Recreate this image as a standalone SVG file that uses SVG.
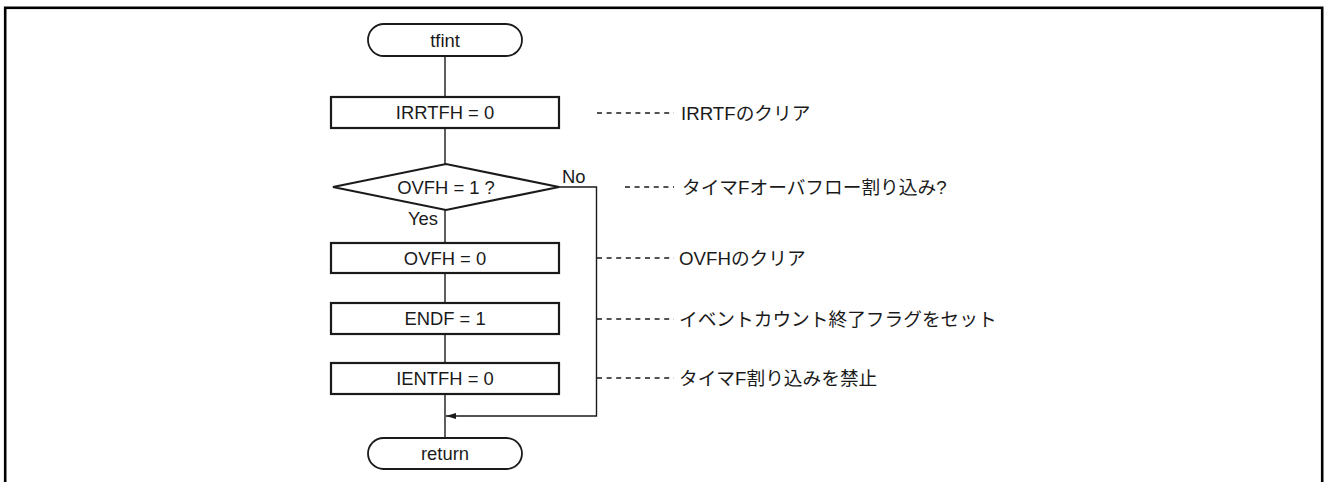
<svg xmlns="http://www.w3.org/2000/svg" width="1324" height="482" viewBox="0 0 1324 482">
<style>
text{font-family:"Liberation Sans","Noto Sans CJK JP",sans-serif;font-size:18.4px;fill:#1a1a1a}
.c{text-anchor:middle}
.n{font-size:18.7px}
.box{fill:#fff;stroke:#1a1a1a;stroke-width:2.2}
.term{fill:#fff;stroke:#1a1a1a;stroke-width:1.8}
.ln{fill:none;stroke:#1a1a1a;stroke-width:1.4}
.dash{fill:none;stroke:#1a1a1a;stroke-width:1.3;stroke-dasharray:5 4.6}
</style>
<defs>
<marker id="ah" markerWidth="10" markerHeight="6" refX="10" refY="3" orient="auto" markerUnits="userSpaceOnUse">
<path d="M0,0 L10,3 L0,6 Z" fill="#1a1a1a"/>
</marker>
</defs>
<rect x="5.2" y="7.8" width="1317" height="490" fill="none" stroke="#000" stroke-width="2.6"/>
<g id="connectors">
<line class="ln" x1="445" y1="56" x2="445" y2="97"/>
<line class="ln" x1="445" y1="128" x2="445" y2="164"/>
<line class="ln" x1="445" y1="210" x2="445" y2="243"/>
<line class="ln" x1="445" y1="273" x2="445" y2="303"/>
<line class="ln" x1="445" y1="334" x2="445" y2="363"/>
<line class="ln" x1="445" y1="394" x2="445" y2="438"/>
<polyline class="ln" points="559,187 596.5,187 596.5,416 457,416"/>
<line x1="457" y1="416" x2="446" y2="416" stroke="#1a1a1a" stroke-width="1.4" marker-end="url(#ah)"/>
<text x="562" y="183" font-size="17.5">No</text>
<text x="408" y="225" font-size="17.5">Yes</text>
<line class="dash" x1="597" y1="113" x2="674" y2="113"/>
<line class="dash" x1="625" y1="187" x2="674" y2="187"/>
<line class="dash" x1="597" y1="258" x2="674" y2="258"/>
<line class="dash" x1="597" y1="319" x2="674" y2="319"/>
<line class="dash" x1="597" y1="378" x2="674" y2="378"/>
</g>
<g id="start"><rect class="term" x="368" y="24" width="154" height="32" rx="16"/><text class="c" x="445" y="46.5">tfint</text></g>
<g id="irrtfh"><rect class="box" x="331" y="97" width="228" height="31"/><text class="c" x="445" y="119">IRRTFH = 0</text></g>
<g id="ovfh-dec"><polygon class="box" points="333,187 446,164 559,187 446,210"/><text class="c" x="446" y="193.5">OVFH = 1 ?</text></g>
<g id="ovfh"><rect class="box" x="331" y="243" width="228" height="30"/><text class="c" x="445" y="264.5">OVFH = 0</text></g>
<g id="endf"><rect class="box" x="331" y="303" width="228" height="31"/><text class="c" x="445" y="325">ENDF = 1</text></g>
<g id="ientfh"><rect class="box" x="331" y="363" width="228" height="31"/><text class="c" x="445" y="385">IENTFH = 0</text></g>
<g id="end"><rect class="term" x="368" y="438" width="154" height="31" rx="15.5"/><text class="c" x="445" y="460">return</text></g>
<g id="notes">
<text class="n" x="681" y="119.5">IRRTFのクリア</text>
<text class="n" x="682" y="193.5">タイマFオーバフロー割り込み?</text>
<text class="n" x="679" y="264.5">OVFHのクリア</text>
<text class="n" x="679" y="325.5">イベントカウント終了フラグをセット</text>
<text class="n" x="679" y="384.5">タイマF割り込みを禁止</text>
</g>
</svg>
